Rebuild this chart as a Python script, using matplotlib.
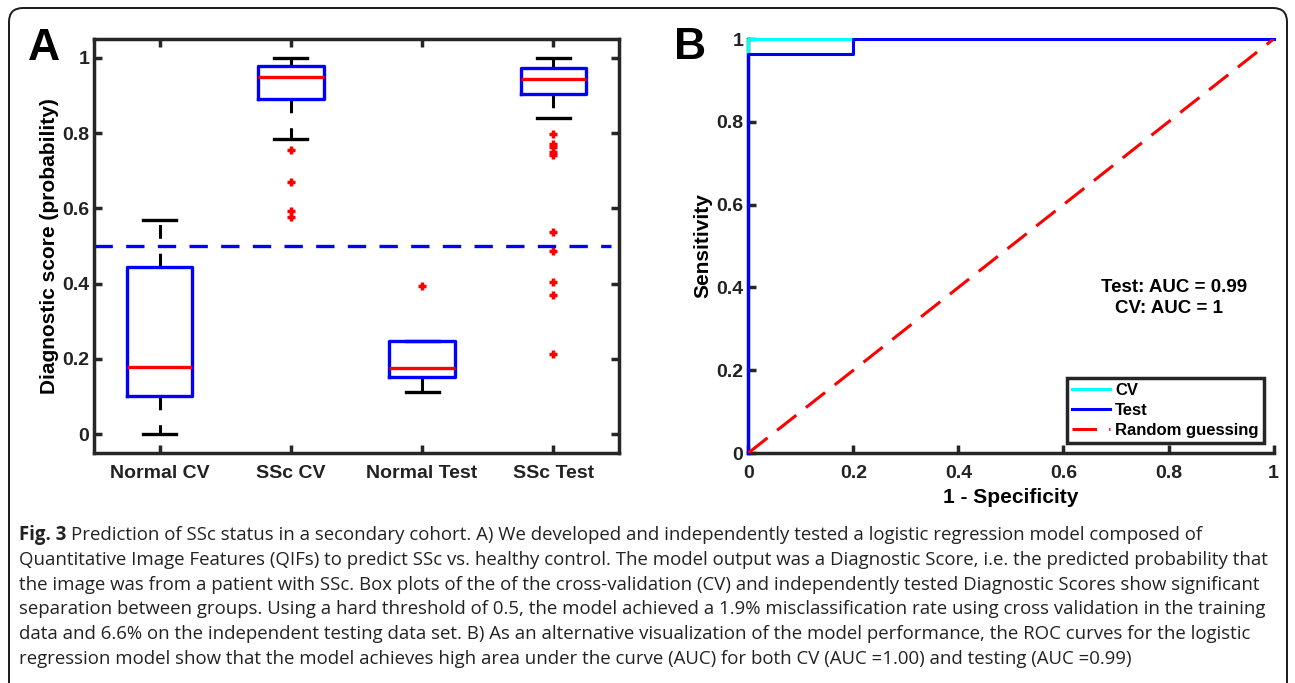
import matplotlib
matplotlib.use('Agg')
import matplotlib.pyplot as plt
from matplotlib.patches import FancyBboxPatch
from matplotlib.transforms import IdentityTransform

plt.rcParams['font.family'] = 'Liberation Sans'
plt.rcParams['font.weight'] = 'bold'
plt.rcParams['axes.labelweight'] = 'bold'

# panel A: diagnostic score box plots
groups = ['Normal CV', 'SSc CV', 'Normal Test', 'SSc Test']
medians = [0.178, 0.949, 0.176, 0.944]
q1s = [0.102, 0.890, 0.152, 0.903]
q3s = [0.445, 0.977, 0.248, 0.972]
whis_lo = [0.0, 0.784, 0.113, 0.839]
whis_hi = [0.568, 1.0, 0.248, 1.0]
outliers = [
    [],
    [0.755, 0.669, 0.594, 0.578],
    [0.395],
    [0.798, 0.771, 0.762, 0.751, 0.742, 0.537, 0.488, 0.404, 0.371, 0.213],
]
threshold = 0.5
ytick_vals = [0, 0.2, 0.4, 0.6, 0.8, 1]
ytick_labels = ['0', '0.2', '0.4', '0.6', '0.8', '1']

# panel B: ROC curves
cv_fpr = [0, 0, 1]
cv_tpr = [0, 1, 1]
test_fpr = [0, 0, 0.2, 0.2, 1]
test_tpr = [0, 0.963, 0.963, 1, 1]
chance = [0, 1]
auc_test = '0.99'
auc_cv = '1'

caption_bold = 'Fig. 3'
caption_lines = [
    'Prediction of SSc status in a secondary cohort. A) We developed and independently tested a logistic regression model composed of',
    'Quantitative Image Features (QIFs) to predict SSc vs. healthy control. The model output was a Diagnostic Score, i.e. the predicted probability that',
    'the image was from a patient with SSc. Box plots of the of the cross-validation (CV) and independently tested Diagnostic Scores show significant',
    'separation between groups. Using a hard threshold of 0.5, the model achieved a 1.9% misclassification rate using cross validation in the training',
    'data and 6.6% on the independent testing data set. B) As an alternative visualization of the model performance, the ROC curves for the logistic',
    'regression model show that the model achieves high area under the curve (AUC) for both CV (AUC =1.00) and testing (AUC =0.99)',
]

W, H = 1295, 683
axcol = '#262626'

fig = plt.figure(figsize=(W / 100, H / 100), dpi=100)
axA = fig.add_axes([94 / W, 1 - 453 / H, 525 / W, 414 / H])
axB = fig.add_axes([748.3 / W, 1 - 453 / H, 525.3 / W, 414 / H])

# ---- panel A
positions = [1, 2, 3, 4]
stats = []
for g, m, a, b, lo, hi, f in zip(groups, medians, q1s, q3s, whis_lo, whis_hi, outliers):
    stats.append(dict(label=g, med=m, q1=a, q3=b, whislo=lo, whishi=hi, fliers=f))

axA.bxp(stats, positions=positions, widths=0.5, capwidths=0.25,
        boxprops=dict(color='#0000ff', lw=2.4, zorder=3),
        medianprops=dict(color='#ff0000', lw=2.4, zorder=4),
        whiskerprops=dict(color='black', lw=2.2, linestyle=(0, (4.5, 4.9))),
        capprops=dict(color='black', lw=2.4),
        flierprops=dict(marker='+', markeredgecolor='#ff0000', markersize=6,
                        markeredgewidth=2.5, linestyle='none'))
axA.axhline(threshold, xmax=0.985, color='#0000ff', lw=2.4, ls=(0, (5.5, 4)), zorder=2)

axA.set_xlim(0.5, 4.5)
axA.set_ylim(-0.05, 1.05)
axA.set_xticks(positions, groups)
axA.set_yticks(ytick_vals, ytick_labels)
axA.tick_params(direction='in', top=True, right=True, length=6, width=2.5,
                color=axcol, labelsize=14, labelcolor='#222222')
axA.tick_params(axis='x', pad=9)
for s in axA.spines.values():
    s.set_linewidth(2.5)
    s.set_color(axcol)
axA.set_ylabel('Diagnostic score (probability)', fontsize=15, labelpad=2)

# ---- panel B
axB.plot(cv_fpr, cv_tpr, color='#00ffff', lw=2.2, label='CV', clip_on=False, zorder=3)
axB.plot(test_fpr, test_tpr, color='#0000ff', lw=2.2, label='Test', clip_on=False, zorder=3)
axB.plot(chance, chance, color='#ff0000', lw=2.2, ls=(0, (8, 4)), label='Random guessing', zorder=3)
axB.set_xlim(0, 1)
axB.set_ylim(0, 1)
axB.set_xticks(ytick_vals, ytick_labels)
axB.set_yticks(ytick_vals, ytick_labels)
axB.spines['top'].set_visible(False)
axB.spines['right'].set_visible(False)
for s in ['left', 'bottom']:
    axB.spines[s].set_linewidth(2.5)
    axB.spines[s].set_color(axcol)
axB.tick_params(direction='in', length=6, width=2.5, color=axcol,
                labelsize=14, labelcolor='#222222')
axB.tick_params(axis='x', pad=9)
axB.set_xlabel('1 - Specificity', fontsize=15, labelpad=4)
axB.set_ylabel('Sensitivity', fontsize=15, labelpad=3)

leg = axB.legend(loc='lower right', fontsize=12, fancybox=False, framealpha=1,
                 edgecolor=axcol, borderaxespad=0.6, handlelength=2.3,
                 labelspacing=0.3, borderpad=0.3, handletextpad=0.3)
leg.get_frame().set_linewidth(2.5)

axB.text(0.671, 0.4005, f'Test: AUC = {auc_test}', fontsize=13.5, va='center')
axB.text(0.699, 0.349, f'CV: AUC = {auc_cv}', fontsize=13.5, va='center')

# panel letters
fig.text(28 / W, 1 - 60 / H, 'A', fontsize=32, va='baseline')
fig.text(674 / W, 1 - 59 / H, 'B', fontsize=32, va='baseline')

# outer frame
frame = FancyBboxPatch((9, -30), 1278, H - 8 + 30,
                       boxstyle='round,pad=0,rounding_size=14',
                       transform=IdentityTransform(), fill=False,
                       lw=1.4, ec='#1a1a1a')
fig.add_artist(frame)

# caption
cap_font = dict(family='Open Sans', fontsize=13.4, color='#222222')
x0 = 19
t = fig.text(x0 / W, 1 - 540 / H, caption_bold, fontweight='bold',
             va='baseline', **cap_font)
r = fig.canvas.get_renderer()
bb = t.get_window_extent(r)
for i, line in enumerate(caption_lines):
    y = 1 - (540 + 24.8 * i) / H
    if i == 0:
        fig.text((bb.x1 + 5) / W, y, line, fontweight='normal', va='baseline', **cap_font)
    else:
        fig.text(x0 / W, y, line, fontweight='normal', va='baseline', **cap_font)

fig.savefig('out.png', dpi=100)
